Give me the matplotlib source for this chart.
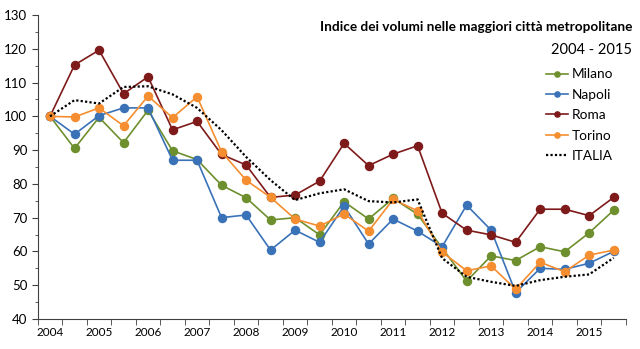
import numpy as np
import matplotlib.pyplot as plt
from matplotlib.ticker import MultipleLocator

plt.rcParams['font.family'] = ['Lato', 'DejaVu Sans']

# half-year periods, 2004 - 2015 (second half)
years = [str(y) for y in range(2004, 2016)]

milano = [100, 90.5, 99.7, 92.2, 101.8, 89.8, 87.2, 79.6, 75.9, 69.3, 70.0, 64.9,
          74.7, 69.6, 75.7, 71.0, 61.0, 51.2, 58.7, 57.3, 61.4, 59.9, 65.5, 72.2]
napoli = [100, 94.7, 100.2, 102.5, 102.5, 87.0, 87.0, 70.0, 70.8, 60.4, 66.3, 62.7,
          73.4, 62.2, 69.6, 66.0, 61.4, 73.7, 66.3, 47.8, 55.0, 54.7, 56.5, 60.0]
roma = [100, 115.2, 119.6, 106.7, 111.7, 96.0, 98.5, 88.7, 85.6, 76.0, 76.7, 80.8,
        92.0, 85.4, 88.8, 91.3, 71.3, 66.3, 64.9, 62.7, 72.5, 72.5, 70.6, 76.0]
torino = [100, 99.8, 102.5, 97.2, 106.0, 99.6, 105.8, 89.5, 81.1, 76.0, 69.6, 67.5,
          71.1, 66.0, 75.4, 72.0, 59.8, 54.3, 55.7, 48.8, 56.8, 54.0, 58.9, 60.4]
italia = [100, 104.8, 103.8, 108.7, 108.9, 106.5, 102.5, 95.9, 88.0, 81.1, 75.2, 77.2,
          78.4, 74.9, 74.5, 75.4, 58.0, 52.5, 51.0, 49.8, 51.5, 52.5, 53.2, 58.1]

series = [("Milano", milano, "#6E8F2E"),
          ("Napoli", napoli, "#3A72B8"),
          ("Roma", roma, "#7E1A1A"),
          ("Torino", torino, "#F58E30")]

x = np.arange(len(milano))

fig = plt.figure(figsize=(6.4, 3.49), dpi=100)
ax = fig.add_axes([0.059, 0.086, 0.919, 0.871])

for name, vals, col in series:
    ax.plot(x, vals, color=col, lw=1.2, marker="o", ms=5.8,
            markeredgecolor=col, label=name)
ax.plot(x, italia, color="black", lw=1.6, ls=(0, (1, 1)), label="ITALIA")

ax.set_xlim(-0.5, len(x) - 0.5)
ax.set_ylim(40, 130)
ax.yaxis.set_major_locator(MultipleLocator(10))
ax.yaxis.set_minor_locator(MultipleLocator(5))

# category ticks between periods, year labels under the first half
ax.set_xticks(np.arange(len(x) + 1) - 0.5, minor=True)
ax.set_xticks(np.arange(0, len(x), 2))
ax.set_xticklabels(years)
ax.tick_params(axis="x", which="major", length=0, labelsize=8.5, pad=6)
ax.tick_params(axis="x", which="minor", length=4, color="#404040")
ax.tick_params(axis="y", which="both", direction="out", color="#404040",
               labelsize=9.5)
ax.tick_params(axis="y", which="major", length=4)
ax.tick_params(axis="y", which="minor", length=2.5)

for s in ["top", "right"]:
    ax.spines[s].set_visible(False)
for s in ["left", "bottom"]:
    ax.spines[s].set_color("#404040")

fig.text(0.988, 0.922, "Indice dei volumi nelle maggiori città metropolitane",
         ha="right", va="center", fontsize=9.8, fontweight="bold")
fig.text(0.988, 0.858, "2004 - 2015", ha="right", va="center", fontsize=10.5)

leg = ax.legend(loc="upper right", bbox_to_anchor=(1.0, 0.865), frameon=False,
                fontsize=9.8, handlelength=1.6, handletextpad=0.3,
                labelspacing=0.62, markerscale=0.65)

fig.savefig("out.png", dpi=100)
